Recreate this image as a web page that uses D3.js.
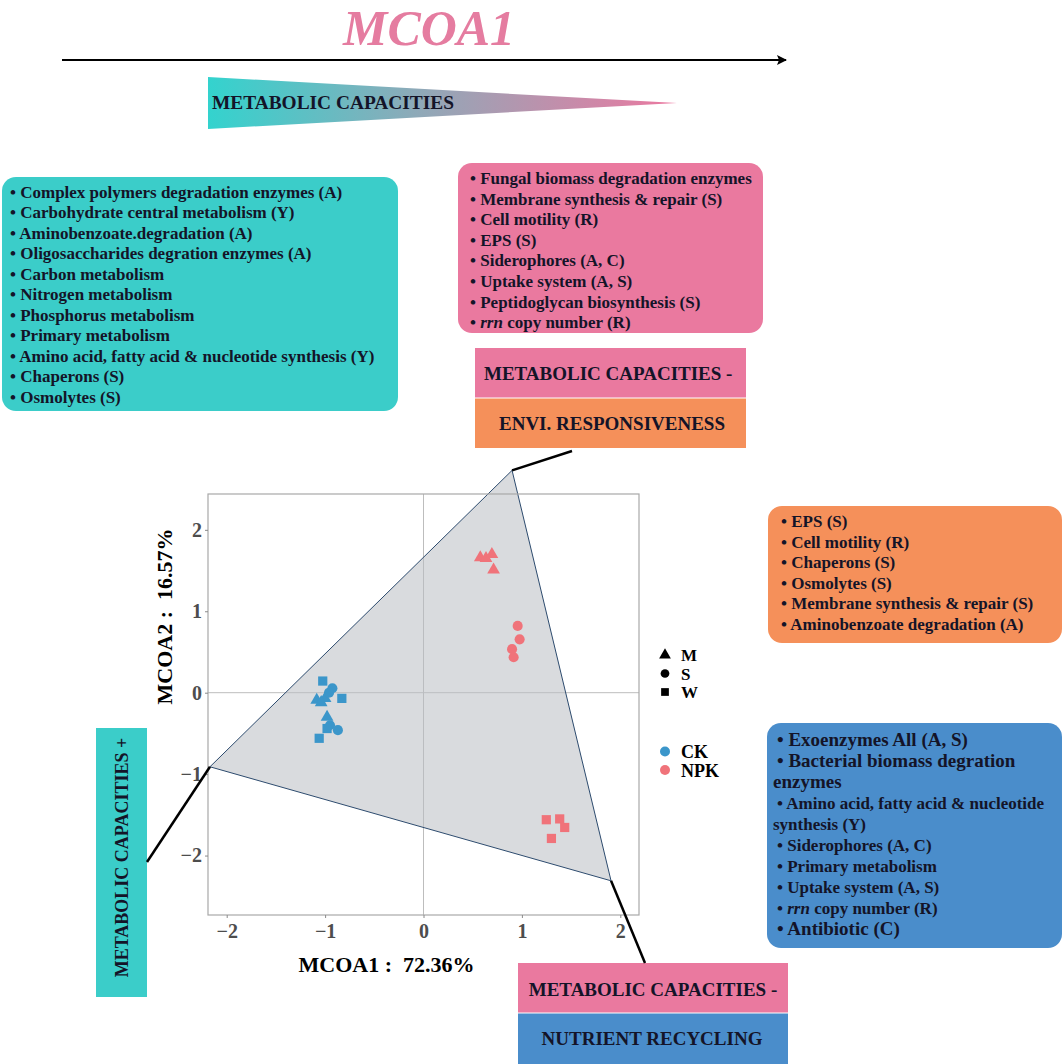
<!DOCTYPE html>
<html><head><meta charset="utf-8">
<script src="https://cdn.jsdelivr.net/npm/d3@7"></script>
<style>
html,body{margin:0;padding:0;background:#fff;}
svg text{font-family:"Liberation Serif","Times New Roman",serif;font-weight:bold;}
</style></head>
<body>
<svg id="chart" width="1064" height="1064"></svg>
<script>
// ---------------- DATA ----------------
const xTicks = [-2, -1, 0, 1, 2];
const yTicks = [-2, -1, 0, 1, 2];
const xTitle = "MCOA1 : 72.36%";
const yTitle = "MCOA2 : 16.57%";
// [MCOA1, MCOA2, season]
const pointsCK = [
  [-1.085, -0.09, "M"], [-1.00, -0.07, "M"], [-1.04, -0.12, "M"], [-0.98, -0.30, "M"],
  [-0.926, 0.054, "S"], [-0.96, 0.00, "S"], [-0.95, -0.40, "S"], [-0.87, -0.46, "S"],
  [-1.024, 0.143, "W"], [-0.83, -0.07, "W"], [-0.98, -0.44, "W"], [-1.06, -0.56, "W"]
];
const pointsNPK = [
  [0.577, 1.66, "M"], [0.635, 1.65, "M"], [0.695, 1.70, "M"], [0.712, 1.51, "M"],
  [0.957, 0.82, "S"], [0.977, 0.655, "S"], [0.90, 0.535, "S"], [0.916, 0.435, "S"],
  [1.248, -1.56, "W"], [1.384, -1.55, "W"], [1.435, -1.655, "W"], [1.30, -1.79, "W"]
];
const hullVertices = [[-2.17, -0.91], [0.90, 2.73], [1.906, -2.31]];
const seasons = ["M", "S", "W"];
const treatments = ["CK", "NPK"];
const treatmentColors = ["#3B96CA", "#F0737A"];

const titleText = "MCOA1";
const gradientLabel = "METABOLIC CAPACITIES";
const boxTopLeft = [
  "• Complex polymers degradation enzymes (A)",
  "• Carbohydrate central metabolism (Y)",
  "• Aminobenzoate.degradation (A)",
  "• Oligosaccharides degration enzymes (A)",
  "• Carbon metabolism",
  "• Nitrogen metabolism",
  "• Phosphorus metabolism",
  "• Primary metabolism",
  "• Amino acid, fatty acid & nucleotide synthesis (Y)",
  "• Chaperons (S)",
  "• Osmolytes (S)"
];
const boxTopMid = [
  "• Fungal biomass degradation enzymes",
  "• Membrane synthesis & repair (S)",
  "• Cell motility (R)",
  "• EPS (S)",
  "• Siderophores (A, C)",
  "• Uptake system (A, S)",
  "• Peptidoglycan biosynthesis (S)",
  "• |rrn| copy number (R)"
];
const boxRightOrange = [
  "• EPS (S)",
  "• Cell motility (R)",
  "• Chaperons (S)",
  "• Osmolytes (S)",
  "• Membrane synthesis & repair (S)",
  "• Aminobenzoate degradation (A)"
];
const boxRightBlue = [
  "• Exoenzymes All (A, S)",
  "• Bacterial biomass degration",
  "enzymes",
  "• Amino acid, fatty acid & nucleotide",
  "synthesis (Y)",
  "• Siderophores (A, C)",
  "• Primary metabolism",
  "• Uptake system (A, S)",
  "• |rrn| copy number (R)",
  "• Antibiotic (C)"
];
const labelTopA = "METABOLIC CAPACITIES -";
const labelTopB = "ENVI. RESPONSIVENESS";
const labelLeft = "METABOLIC CAPACITIES +";
const labelBottomA = "METABOLIC CAPACITIES -";
const labelBottomB = "NUTRIENT RECYCLING";

// ---------------- COLOURS ----------------
const TEAL = "#3BCDC9", PINK = "#EA799F", ORANGE = "#F5905A", BLUE = "#4A8DCB", INK = "#141428";

const svg = d3.select("#chart");
const defs = svg.append("defs");
const grad = defs.append("linearGradient").attr("id", "gradMC").attr("x1", "0%").attr("x2", "100%").attr("y1", "0%").attr("y2", "0%");
grad.append("stop").attr("offset", "0%").attr("stop-color", "#33D3CE");
grad.append("stop").attr("offset", "45%").attr("stop-color", "#8FA9B8");
grad.append("stop").attr("offset", "100%").attr("stop-color", "#EC78A0");

// ---------------- HEADER ----------------
svg.append("text").attr("x", 343).attr("y", 45)
  .attr("font-size", 51).attr("font-style", "italic").attr("fill", "#E57CA0")
  .attr("textLength", 172).attr("lengthAdjust", "spacingAndGlyphs").text(titleText);
defs.append("marker").attr("id", "arrowHead").attr("viewBox", "0 0 10 10").attr("refX", 9).attr("refY", 5)
  .attr("markerWidth", 12).attr("markerHeight", 10).attr("markerUnits", "userSpaceOnUse").attr("orient", "auto")
  .append("path").attr("d", "M0,0 L10,5 L0,10 L2,5 Z").attr("fill", "#000");
svg.append("line").attr("x1", 62).attr("y1", 60).attr("x2", 786).attr("y2", 60)
  .attr("stroke", "#000").attr("stroke-width", 2).attr("marker-end", "url(#arrowHead)");
svg.append("path").attr("d", "M208,77 L677,103 L208,129 Z").attr("fill", "url(#gradMC)");
svg.append("text").attr("x", 212).attr("y", 109).attr("font-size", 19).attr("fill", INK)
  .attr("textLength", 242).attr("lengthAdjust", "spacingAndGlyphs").text(gradientLabel);

// ---------------- helper for text boxes ----------------
function addLines(g, lines, x, y0, step, sizeFn, xFn) {
  lines.forEach((t, i) => {
    const txt = g.append("text").attr("x", xFn ? xFn(t, i) : x).attr("y", y0 + i * step)
      .attr("font-size", sizeFn(i)).attr("fill", INK);
    t.split("|").forEach((part, k) => {
      txt.append("tspan").attr("font-style", k % 2 === 1 ? "italic" : null).text(part);
    });
  });
}

// top-left teal box
svg.append("rect").attr("x", 2).attr("y", 177).attr("width", 396).attr("height", 234).attr("rx", 14).attr("fill", TEAL);
addLines(svg, boxTopLeft, 10, 197.5, 20.5, () => 17);

// top-middle pink box
svg.append("rect").attr("x", 458).attr("y", 163).attr("width", 305).attr("height", 170).attr("rx", 14).attr("fill", PINK);
addLines(svg, boxTopMid, 470, 184, 20.6, () => 17);

// top label stack
svg.append("rect").attr("x", 475).attr("y", 348).attr("width", 271).attr("height", 50).attr("fill", PINK);
svg.append("rect").attr("x", 475).attr("y", 398).attr("width", 271).attr("height", 50).attr("fill", ORANGE);
svg.append("line").attr("x1", 475).attr("x2", 746).attr("y1", 398).attr("y2", 398).attr("stroke", "#fff").attr("stroke-width", 1);
svg.append("text").attr("x", 484).attr("y", 380).attr("font-size", 19).attr("fill", INK).text(labelTopA);
svg.append("text").attr("x", 499).attr("y", 430).attr("font-size", 19).attr("fill", INK).text(labelTopB);

// right orange box
svg.append("rect").attr("x", 768).attr("y", 506).attr("width", 294).attr("height", 137).attr("rx", 14).attr("fill", ORANGE);
addLines(svg, boxRightOrange, 781, 527, 20.5, () => 17);

// right blue box
svg.append("rect").attr("x", 767).attr("y", 723).attr("width", 295).attr("height", 225).attr("rx", 14).attr("fill", BLUE);
const bigBlue = new Set([0, 1, 2, 9]);
addLines(svg, boxRightBlue, 778, 746, 21, i => bigBlue.has(i) ? 19 : 17,
  (t, i) => t.startsWith("•") ? 777 : 773);

// left vertical label
svg.append("rect").attr("x", 96).attr("y", 728).attr("width", 51).attr("height", 269).attr("fill", TEAL);
svg.append("text").attr("transform", "translate(128,857.5) rotate(-90)").attr("text-anchor", "middle")
  .attr("font-size", 18).attr("fill", INK).text(labelLeft);

// bottom label stack
svg.append("rect").attr("x", 518).attr("y", 963).attr("width", 270).attr("height", 50).attr("fill", PINK);
svg.append("rect").attr("x", 518).attr("y", 1013).attr("width", 270).attr("height", 51).attr("fill", BLUE);
svg.append("line").attr("x1", 518).attr("x2", 788).attr("y1", 1013).attr("y2", 1013).attr("stroke", "#fff").attr("stroke-width", 1);
svg.append("text").attr("x", 653).attr("y", 996).attr("text-anchor", "middle").attr("font-size", 19).attr("fill", INK).text(labelBottomA);
svg.append("text").attr("x", 652).attr("y", 1045).attr("text-anchor", "middle").attr("font-size", 19).attr("fill", INK).text(labelBottomB);

// ---------------- PLOT ----------------
const L = 208, R = 639, T = 494, B = 915;
const x = d3.scaleLinear().domain([-2.19, 2.19]).range([L, R]);
const y = d3.scaleLinear().domain([-2.73, 2.44]).range([B, T]);
const plot = svg.append("g");
plot.append("rect").attr("x", L).attr("y", T).attr("width", R - L).attr("height", B - T).attr("fill", "#fff");
plot.append("line").attr("x1", x(0)).attr("x2", x(0)).attr("y1", T).attr("y2", B).attr("stroke", "#BDBDBD").attr("stroke-width", 1);
plot.append("line").attr("x1", L).attr("x2", R).attr("y1", y(0)).attr("y2", y(0)).attr("stroke", "#BDBDBD").attr("stroke-width", 1);
plot.append("path")
  .attr("d", d3.line().x(d => x(d[0])).y(d => y(d[1]))(hullVertices) + "Z")
  .attr("fill", "#B9BDC3").attr("fill-opacity", 0.55).attr("stroke", "#2D4B6E").attr("stroke-width", 1);

const shapeOf = {M: d3.symbolTriangle, S: d3.symbolCircle, W: d3.symbolSquare};
const sizeOf = {M: 70, S: 80, W: 85};
[pointsCK, pointsNPK].forEach((pts, ti) => {
  plot.selectAll(null).data(pts).enter().append("path")
    .attr("transform", d => `translate(${x(d[0])},${y(d[1])})`)
    .attr("d", d => d3.symbol().type(shapeOf[d[2]]).size(sizeOf[d[2]])())
    .attr("fill", treatmentColors[ti]);
});
plot.append("rect").attr("x", L).attr("y", T).attr("width", R - L).attr("height", B - T)
  .attr("fill", "none").attr("stroke", "#A8A8A8").attr("stroke-width", 1.2);

const fmt = d3.format("d");
const xAxis = plot.append("g").attr("transform", `translate(0,${B})`)
  .call(d3.axisBottom(x).tickValues(xTicks).tickFormat(fmt).tickSize(3).tickPadding(6));
const yAxis = plot.append("g").attr("transform", `translate(${L},0)`)
  .call(d3.axisLeft(y).tickValues(yTicks).tickFormat(fmt).tickSize(3).tickPadding(3));
[xAxis, yAxis].forEach(a => {
  a.select(".domain").remove();
  a.selectAll(".tick line").attr("stroke", "#8A8A8A");
  a.selectAll(".tick text").attr("font-size", 20).attr("fill", "#4D4D4D")
    .attr("font-family", "Liberation Serif").attr("font-weight", "bold");
});
svg.append("text").attr("x", 386.5).attr("y", 972).attr("text-anchor", "middle").attr("font-size", 22)
  .attr("fill", "#000").style("white-space", "pre").text(xTitle.replace(" : ", " :  "));
svg.append("text").attr("transform", "translate(172,616.5) rotate(-90)").attr("text-anchor", "middle")
  .attr("font-size", 22).attr("fill", "#000").style("white-space", "pre").text(yTitle.replace(" : ", " :  "));

// connectors
const connectorEnds = [[572, 451], [147, 862], [645, 963]];
const hullOrder = [1, 0, 2];
hullOrder.forEach((hi, k) => {
  svg.append("line").attr("x1", x(hullVertices[hi][0])).attr("y1", y(hullVertices[hi][1]))
    .attr("x2", connectorEnds[k][0]).attr("y2", connectorEnds[k][1])
    .attr("stroke", "#000").attr("stroke-width", 2.5);
});

// ---------------- LEGEND ----------------
const leg = svg.append("g");
seasons.forEach((s, i) => {
  const cy = 655 + i * 18.5;
  leg.append("path").attr("transform", `translate(665,${cy})`)
    .attr("d", d3.symbol().type(shapeOf[s]).size(60)()).attr("fill", "#000");
  leg.append("text").attr("x", 681).attr("y", cy + 6).attr("font-size", 17).attr("fill", "#000").text(s);
});
treatments.forEach((t, i) => {
  const cy = 751.5 + i * 18.5;
  leg.append("circle").attr("cx", 665).attr("cy", cy).attr("r", 5).attr("fill", treatmentColors[i]);
  leg.append("text").attr("x", 681).attr("y", cy + 6.5).attr("font-size", 18).attr("fill", "#000").text(t);
});
</script>
</body></html>
